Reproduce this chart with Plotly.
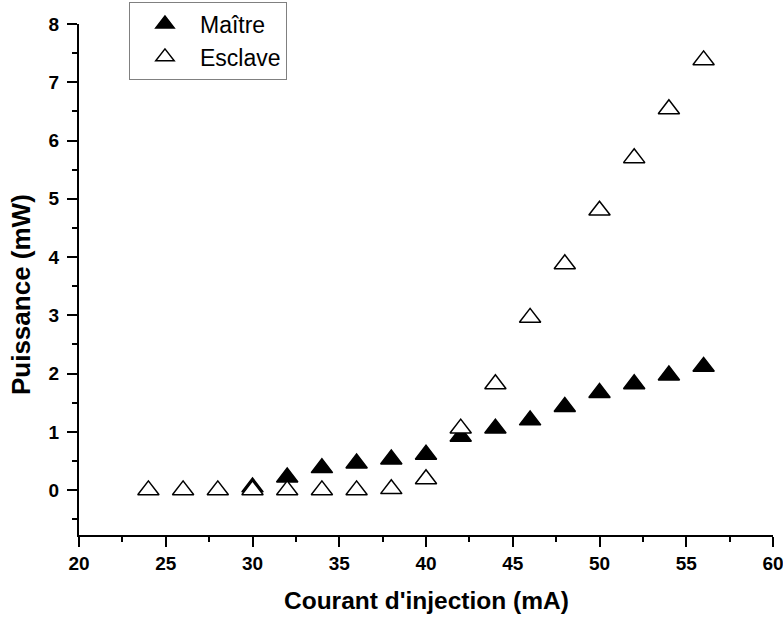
import plotly.graph_objects as go

# Injection current (mA)
courant_maitre = [30, 32, 34, 36, 38, 40, 42, 44, 46, 48, 50, 52, 54, 56]
puissance_maitre = [0.05, 0.22, 0.38, 0.46, 0.53, 0.61, 0.92, 1.06, 1.20, 1.43, 1.67, 1.82, 1.97, 2.12]

courant_esclave = [24, 26, 28, 30, 32, 34, 36, 38, 40, 42, 44, 46, 48, 50, 52, 54, 56]
puissance_esclave = [0.0, 0.0, 0.0, 0.0, 0.0, 0.0, 0.0, 0.02, 0.19, 1.06, 1.82, 2.96, 3.88, 4.80, 5.70, 6.54, 7.38]

x_ticks = [20, 25, 30, 35, 40, 45, 50, 55, 60]
y_ticks = [0, 1, 2, 3, 4, 5, 6, 7, 8]

FONT = "Liberation Sans, Arial, sans-serif"

fig = go.Figure()
fig.add_trace(go.Scatter(
    x=courant_maitre, y=puissance_maitre, mode="markers", name="Maître",
    marker=dict(symbol="triangle-up", size=18.5, color="black",
                line=dict(color="black", width=1.5)),
))
fig.add_trace(go.Scatter(
    x=courant_esclave, y=puissance_esclave, mode="markers", name="Esclave",
    marker=dict(symbol="triangle-up", size=18.5, color="white",
                line=dict(color="black", width=1.5)),
))

axis_common = dict(
    showgrid=False, zeroline=False, showline=True, linecolor="black", linewidth=2,
    ticks="outside", ticklen=10, tickwidth=2, tickcolor="black",
    tickfont=dict(family=FONT, size=19, color="black", weight="bold"),
    minor=dict(ticks="outside", ticklen=5, tickwidth=2, tickcolor="black"),
    mirror=False, ticklabeloverflow="allow", automargin=False,
)

fig.update_xaxes(range=[20, 60], tickvals=x_ticks, ticktext=[str(v) for v in x_ticks],
                 minor_dtick=2.5, **axis_common)
fig.update_yaxes(range=[-0.77, 8], tickvals=y_ticks, ticktext=[str(v) for v in y_ticks],
                 minor_dtick=0.5, ticklabelstandoff=4, **axis_common)

fig.add_annotation(text="Courant d'injection (mA)", xref="paper", yref="paper",
                   x=0.5, y=-0.129, xanchor="center", yanchor="middle", showarrow=False,
                   font=dict(family=FONT, size=24.5, color="black", weight="bold"))
fig.add_annotation(text="Puissance (mW)", xref="paper", yref="paper",
                   x=-0.0835, y=0.4697, xanchor="center", yanchor="middle", showarrow=False,
                   textangle=-90,
                   font=dict(family=FONT, size=26, color="black", weight="bold"))

fig.update_layout(
    width=783, height=618,
    margin=dict(l=79, r=10, t=24, b=83, autoexpand=False),
    plot_bgcolor="white", paper_bgcolor="white",
    showlegend=True,
    legend=dict(x=0.072, y=1.044, xanchor="left", yanchor="top",
                bordercolor="#808080", borderwidth=1, bgcolor="white",
                font=dict(family=FONT, size=23, color="black"),
                itemwidth=60, tracegroupgap=0),
)

fig.write_html("out.html")
